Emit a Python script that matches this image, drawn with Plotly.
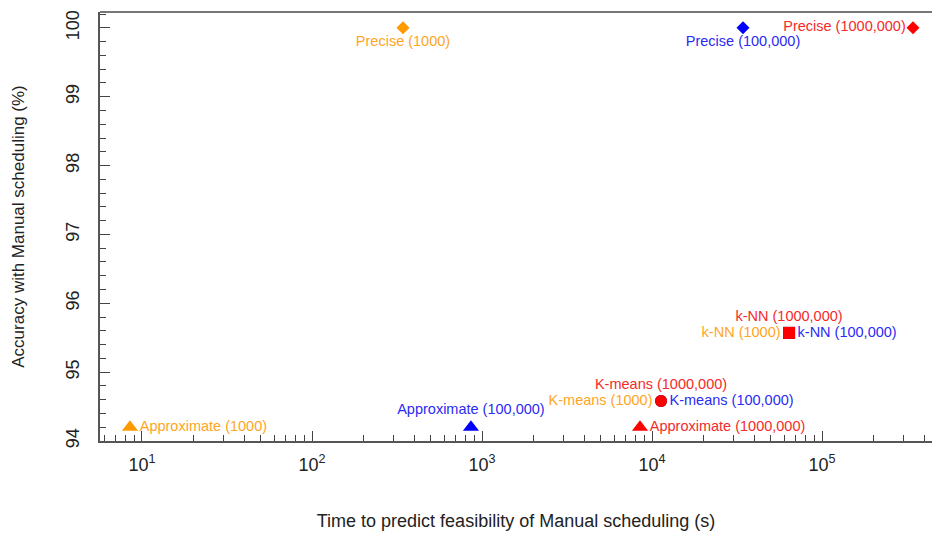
import plotly.graph_objects as go

# Data (time in seconds, accuracy in %)
methods = ["Approximate", "K-means", "k-NN", "Precise"]
sizes = ["1000", "100,000", "1000,000"]
colors = {"1000": "#FF9900", "100,000": "#0000FF", "1000,000": "#FF0000"}
text_colors = {"1000": "#FFA51F", "100,000": "#2B2BF5", "1000,000": "#F52A2A"}

times = {
    "1000":      [8.5, 11300, 64000, 343],
    "100,000":   [861, 11300, 64000, 34300],
    "1000,000":  [8500, 11300, 64000, 343000],
}
accuracy = {
    "1000":      [94.2, 94.58, 95.57, 100.0],
    "100,000":   [94.2, 94.58, 95.57, 100.0],
    "1000,000":  [94.2, 94.58, 95.57, 100.0],
}
x_tickvals = [10, 100, 1000, 10000, 100000]
x_ticktext = ["10<sup>1</sup>", "10<sup>2</sup>", "10<sup>3</sup>", "10<sup>4</sup>", "10<sup>5</sup>"]

symbols = ["triangle-up", "circle", "square", "diamond"]
msizes = [14, 12, 12, 10]
textpos = {
    "1000":     ["middle right", "middle left", "middle left", "bottom center"],
    "100,000":  ["top center", "middle right", "middle right", "bottom center"],
    "1000,000": ["middle right", "top center", "top center", "middle left"],
}

fig = go.Figure()
for s in sizes:
    fig.add_trace(go.Scatter(
        x=times[s], y=accuracy[s], mode="markers+text",
        marker=dict(symbol=symbols, size=msizes, color=colors[s], opacity=1,
                    line=dict(width=0)),
        text=[f"{m} ({s})" for m in methods],
        textposition=textpos[s],
        textfont=dict(color=text_colors[s], size=14.5, family="Liberation Sans, Arial"),
        showlegend=False, cliponaxis=False,
    ))

fig.update_layout(
    width=932, height=536,
    margin=dict(l=100, r=0, t=12, b=95),
    plot_bgcolor="white", paper_bgcolor="white",
    font=dict(family="Liberation Sans, Arial", color="#222"),
    xaxis=dict(
        type="log", range=[0.753, 5.647],
        tickvals=x_tickvals, ticktext=x_ticktext,
        showgrid=False, zeroline=False,
        showline=True, linecolor="#555", linewidth=2,
        ticks="inside", ticklen=10, tickcolor="#444", tickwidth=1,
        tickfont=dict(size=18), ticklabelstandoff=6,
        minor=dict(ticks="inside", ticklen=6, dtick="D1", tickcolor="#444", showgrid=False),
        title=dict(text="Time to predict feasibility of Manual scheduling (s)",
                   font=dict(size=18), standoff=41),
    ),
    yaxis=dict(
        range=[94, 100.23], dtick=1,
        showgrid=False, zeroline=False,
        showline=True, linecolor="#555", linewidth=2,
        ticks="inside", ticklen=10, tickcolor="#444", tickwidth=1,
        tickangle=-90, tickfont=dict(size=18), ticklabelstandoff=12,
        minor=dict(ticks="inside", ticklen=6, dtick=0.2, tickcolor="#444", showgrid=False),
        title=dict(text="Accuracy with Manual scheduling (%)", font=dict(size=17), standoff=34),
    ),
    shapes=[dict(type="line", xref="paper", yref="paper", x0=0, x1=1, y0=1, y1=1,
                 line=dict(color="#777", width=2))],
)

fig.write_html("out.html")
